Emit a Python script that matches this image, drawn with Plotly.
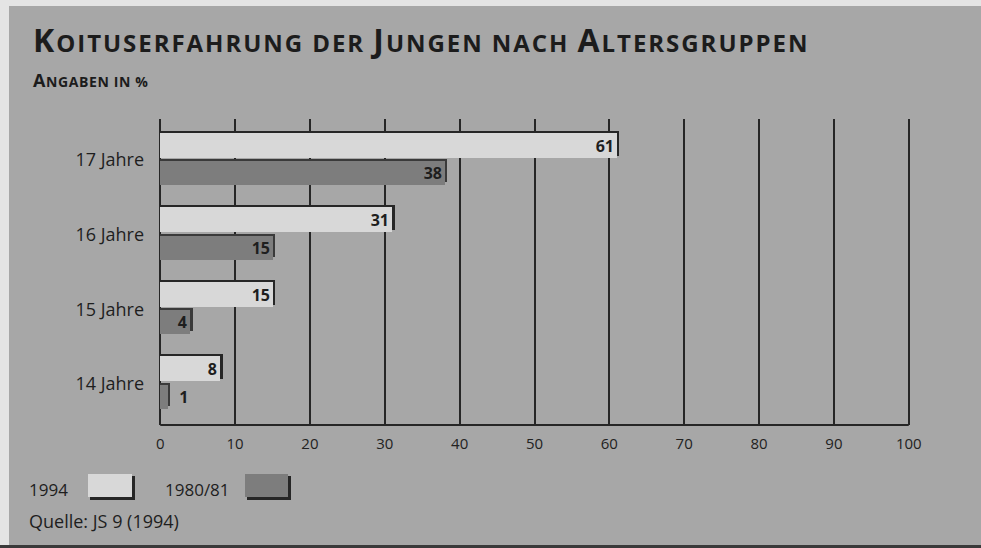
import plotly.graph_objects as go

# Data
age_groups = ["14 Jahre", "15 Jahre", "16 Jahre", "17 Jahre"]
share_1994 = [8, 15, 31, 61]
share_1980 = [1, 4, 15, 38]
x_ticks = [0, 10, 20, 30, 40, 50, 60, 70, 80, 90, 100]
series_names = ["1994", "1980/81"]

W, H = 981, 548
L, R, T, B = 158, 70, 119, 123
PW, PH = W - L - R, H - T - B

BG = "#a7a7a7"
LIGHT = "#d8d8d8"
DARK = "#7d7d7d"
INK = "#262626"
FONT = "Open Sans"

SHADOW_EXT = 0.35           # extra length of the drop-shadow edge (axis units)
CAT_PX = PH / 4.1           # pixels per category step


def off(px):
    return px / CAT_PX


fig = go.Figure()

label_font = dict(family=FONT, size=16, color="#1e1e1e", weight="bold")

# 1994: dark edge (top + right) below a light fill
fig.add_trace(go.Bar(
    y=age_groups, x=[v + SHADOW_EXT for v in share_1994], orientation="h",
    width=off(25), offset=off(4.5), marker=dict(color=INK, line_width=0),
    hoverinfo="skip", showlegend=False))
fig.add_trace(go.Bar(
    y=age_groups, x=share_1994, orientation="h", name=series_names[0],
    width=off(25), offset=off(2.5), marker=dict(color=LIGHT, line_width=0),
    text=[str(v) for v in share_1994], textposition="inside", textangle=0,
    insidetextanchor="end", constraintext="none", textfont=label_font,
    showlegend=False))

# 1980/81: darker edge behind a mid-grey fill
fig.add_trace(go.Bar(
    y=age_groups, x=[v + SHADOW_EXT for v in share_1980], orientation="h",
    width=off(23), offset=off(-22), marker=dict(color="#3a3a3a", line_width=0),
    hoverinfo="skip", showlegend=False))
fig.add_trace(go.Bar(
    y=age_groups, x=share_1980, orientation="h", name=series_names[1],
    width=off(24), offset=off(-25), marker=dict(color=DARK, line_width=0),
    text=[("\u00a0\u00a0" + str(v)) if v < 3 else str(v) for v in share_1980],
    textposition=["outside" if v < 3 else "inside" for v in share_1980],
    textangle=0, insidetextanchor="end", constraintext="none", cliponaxis=False,
    textfont=label_font, showlegend=False))


def px_x(px):
    return (px - L) / PW


def px_y(py):
    return (H - B - py) / PH


shapes = [
    # scanned page edges
    dict(type="rect", xref="paper", yref="paper", x0=px_x(0), x1=px_x(9),
         y0=px_y(H), y1=px_y(0), fillcolor="#e4e4e4", line_width=0, layer="below"),
    dict(type="rect", xref="paper", yref="paper", x0=px_x(0), x1=px_x(W),
         y0=px_y(6), y1=px_y(0), fillcolor="#e4e4e4", line_width=0, layer="below"),
    dict(type="rect", xref="paper", yref="paper", x0=px_x(0), x1=px_x(W),
         y0=px_y(H), y1=px_y(545), fillcolor="#3a3a3a", line_width=0, layer="below"),
    # legend swatches
    dict(type="rect", xref="paper", yref="paper", x0=px_x(90), x1=px_x(135),
         y0=px_y(500), y1=px_y(476), fillcolor=INK, line_width=0),
    dict(type="rect", xref="paper", yref="paper", x0=px_x(88), x1=px_x(132),
         y0=px_y(497), y1=px_y(474), fillcolor=LIGHT, line_width=0),
    dict(type="rect", xref="paper", yref="paper", x0=px_x(247), x1=px_x(291),
         y0=px_y(500), y1=px_y(476), fillcolor=INK, line_width=0),
    dict(type="rect", xref="paper", yref="paper", x0=px_x(245), x1=px_x(288),
         y0=px_y(497), y1=px_y(474), fillcolor=DARK, line_width=0),
]

SP = 1.95
title = (f"<span style='font-size:32px;letter-spacing:{SP}px'>K</span>"
         f"<span style='font-size:24px;letter-spacing:{SP}px'>OITUSERFAHRUNG DER </span>"
         f"<span style='font-size:32px;letter-spacing:{SP}px'>J</span>"
         f"<span style='font-size:24px;letter-spacing:{SP}px'>UNGEN NACH </span>"
         f"<span style='font-size:32px;letter-spacing:{SP}px'>A</span>"
         f"<span style='font-size:24px;letter-spacing:{SP}px'>LTERSGRUPPEN</span>")
subtitle = ("<span style='font-size:18px;letter-spacing:0.6px'>A</span>"
            "<span style='font-size:14px;letter-spacing:0.6px'>NGABEN IN %</span>")

annotations = [
    dict(text=title, xref="paper", yref="paper", x=px_x(31), y=px_y(63),
         xanchor="left", yanchor="bottom", showarrow=False,
         font=dict(family=FONT, size=24, color="#1c1c1c", weight="bold")),
    dict(text=subtitle, xref="paper", yref="paper", x=px_x(31), y=px_y(94),
         xanchor="left", yanchor="bottom", showarrow=False,
         font=dict(family=FONT, size=14, color="#1c1c1c", weight="bold")),
    dict(text=series_names[0], xref="paper", yref="paper", x=px_x(27), y=px_y(489),
         xanchor="left", yanchor="middle", showarrow=False,
         font=dict(family=FONT, size=17, color="#1e1e1e")),
    dict(text=series_names[1], xref="paper", yref="paper", x=px_x(163), y=px_y(489),
         xanchor="left", yanchor="middle", showarrow=False,
         font=dict(family=FONT, size=17, color="#1e1e1e")),
    dict(text="Quelle: JS 9 (1994)", xref="paper", yref="paper", x=px_x(27), y=px_y(521),
         xanchor="left", yanchor="middle", showarrow=False,
         font=dict(family=FONT, size=18, color="#1e1e1e")),
]

fig.update_layout(
    width=W, height=H, margin=dict(l=L, r=R, t=T, b=B, pad=0),
    paper_bgcolor=BG, plot_bgcolor=BG,
    barmode="overlay", bargap=0,
    shapes=shapes, annotations=annotations, showlegend=False,
    xaxis=dict(range=[-0.3, 100.3], tickvals=x_ticks, ticks="", showgrid=True,
               gridcolor=INK, gridwidth=1.5, zeroline=False, showline=False,
               tickfont=dict(family=FONT, size=15, color="#222"), ticklabelstandoff=8,
               fixedrange=True),
    yaxis=dict(range=[-0.55, 3.55], categoryorder="array", categoryarray=age_groups,
               showgrid=False, zeroline=False, showline=False, ticks="",
               tickfont=dict(family=FONT, size=18, color="#1e1e1e"),
               ticklabelstandoff=13, fixedrange=True),
)

# baseline under the bars
fig.add_shape(type="line", xref="x", yref="paper", x0=0, x1=100, y0=0, y1=0,
              line=dict(color=INK, width=2))

fig.write_html("out.html")
